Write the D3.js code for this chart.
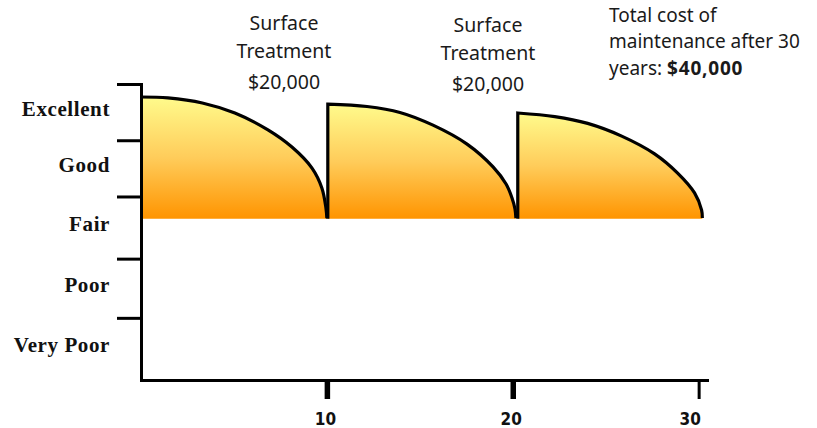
<!DOCTYPE html>
<html lang="en">
  <head>
    <meta charset="utf-8" />
    <title>Pavement condition with surface treatments</title>
    <style>
      body { margin: 0; background: #fff; }
      #chart svg { display: block; }
    </style>
  </head>
  <body>
    <div id="chart"></div>

    <script src="https://d3js.org/d3.v7.min.js"></script>
    <script>
      // condition ratings, top to bottom, and the tick boundaries between them
      const ratings = ["Excellent", "Good", "Fair", "Poor", "Very Poor"];
      const ratingTicks = [100, 81, 62, 41, 21, 0];
      const yearTicks = [10, 20, 30];

      // condition index (0-100) over years
      const seg1Years = [0, 1.45, 3.3, 5.05, 6.83, 8.12, 9.2, 9.73, 9.95, 10];
      const seg1Cond = [95.6, 95.3, 93.6, 90.2, 84.5, 78.7, 71.6, 64.9, 58.1, 54.7];
      const seg2Years = [10.05, 12.16, 13.93, 15.71, 17.54, 18.94, 19.64, 19.96, 20.12, 20.17];
      const seg2Cond = [93.2, 92.4, 90.4, 86.1, 79.7, 72.0, 66.2, 61.5, 57.8, 54.7];
      const seg3Years = [20.27, 22.26, 24.03, 25.86, 27.63, 28.87, 29.78, 30.16, 30.2];
      const seg3Cond = [90.2, 89.0, 86.7, 82.4, 76.4, 69.9, 63.2, 57.4, 54.7];
      const fairLine = 54.5;

      const treatmentLabel = ["Surface", "Treatment"];
      const treatmentCost = 20000;
      const totalText = ["Total cost of", "maintenance after 30", "years: "];
      const totalCost = 40000;

      const width = 817, height = 428;

      const x = d3.scaleLinear().domain([0, 30.45]).range([141, 707]);
      const y = d3.scaleLinear().domain([0, 100]).range([380, 84]);

      const svg = d3.select("#chart").append("svg")
        .attr("width", width)
        .attr("height", height);

      const grad = svg.append("defs").append("linearGradient")
        .attr("id", "fillGrad")
        .attr("x1", 0).attr("y1", 0).attr("x2", 0).attr("y2", 1);
      grad.append("stop").attr("offset", "0%").attr("stop-color", "#fffb8c");
      grad.append("stop").attr("offset", "50%").attr("stop-color", "#ffcc5a");
      grad.append("stop").attr("offset", "100%").attr("stop-color", "#ff9400");

      const segments = [
        seg1Years.map((yr, i) => [yr, seg1Cond[i]]),
        seg2Years.map((yr, i) => [yr, seg2Cond[i]]),
        seg3Years.map((yr, i) => [yr, seg3Cond[i]])
      ];

      // centripetal catmull-rom keeps the near-vertical ends smooth
      const smooth = d3.curveCatmullRom.alpha(0.5);

      const area = d3.area()
        .x(d => x(d[0]))
        .y0(y(fairLine))
        .y1(d => y(d[1]))
        .curve(smooth);

      const line = d3.line()
        .x(d => x(d[0]))
        .y(d => y(d[1]))
        .curve(smooth);

      svg.selectAll("path.cond-fill")
        .data(segments)
        .enter()
        .append("path")
        .attr("class", "cond-fill")
        .attr("d", area)
        .attr("fill", "url(#fillGrad)");

      // outline: rise from the fair line at each treatment, then decay
      svg.selectAll("path.cond-line")
        .data(segments)
        .enter()
        .append("path")
        .attr("class", "cond-line")
        .attr("d", (d, i) => {
          let p = line(d);
          if (i === 0) return p;
          return `M${x(d[0][0])},${y(fairLine)}L` + p.slice(1);
        })
        .attr("fill", "none")
        .attr("stroke", "#000")
        .attr("stroke-width", 3.2)
        .attr("stroke-linejoin", "miter");

      // y axis
      const yAxis = svg.append("g")
        .attr("transform", `translate(${x(0)},0)`)
        .call(d3.axisLeft(y).tickValues(ratingTicks.slice(0, 5)).tickSize(24).tickSizeOuter(0).tickFormat(""));

      // x axis
      const xAxis = svg.append("g")
        .attr("transform", `translate(0,${y(0)})`)
        .call(d3.axisBottom(x).tickValues(yearTicks).tickSize(19).tickSizeOuter(0).tickFormat(d3.format("d")));

      [yAxis, xAxis].forEach(g => {
        g.select(".domain").attr("stroke", "#000").attr("stroke-width", 3).attr("stroke-linecap", "square");
        g.selectAll(".tick line").attr("stroke", "#000").attr("stroke-width", 3);
      });
      xAxis.selectAll(".tick line").attr("stroke-width", d => d === 30 ? 3 : 5.5);
      xAxis.selectAll(".tick text")
        .attr("y", 45)
        .attr("dy", 0)
        .attr("dx", d => d === 30 ? -9 : -2)
        .attr("fill", "#111")
        .style("font-family", "'Liberation Sans Narrow', 'DejaVu Sans Condensed', 'DejaVu Sans', sans-serif")
        .style("font-weight", "bold")
        .style("font-size", "17px");

      // rating labels between ticks
      svg.append("g")
        .selectAll("text")
        .data(ratings)
        .enter()
        .append("text")
        .attr("x", 110)
        .attr("y", (d, i) => (y(ratingTicks[i]) + y(ratingTicks[i + 1])) / 2 + 3.5)
        .attr("text-anchor", "end")
        .attr("fill", "#111")
        .style("font-family", "'Liberation Serif', 'Times New Roman', serif")
        .style("font-weight", "bold")
        .style("font-size", "21px")
        .style("letter-spacing", "0.6px")
        .text(d => d);

      // treatment annotations
      const money = d3.format("$,");
      const notes = [{ cx: 284, top: 30 }, { cx: 488, top: 32 }];
      notes.forEach(n => {
        const t = svg.append("text")
          .attr("text-anchor", "middle")
          .attr("fill", "#1a1a1a")
          .style("font-family", "'Noto Sans', sans-serif")
          .style("font-size", "19.5px");
        t.append("tspan").attr("x", n.cx).attr("y", n.top).text(treatmentLabel[0]);
        t.append("tspan").attr("x", n.cx).attr("y", n.top + 28).text(treatmentLabel[1]);
        t.append("tspan").attr("x", n.cx).attr("y", n.top + 59).text(money(treatmentCost));
      });

      const total = svg.append("text")
        .attr("fill", "#1a1a1a")
        .style("font-family", "'Noto Sans', sans-serif")
        .style("font-size", "19px");
      total.append("tspan").attr("x", 609).attr("y", 22).text(totalText[0]);
      total.append("tspan").attr("x", 609).attr("y", 48).text(totalText[1]);
      total.append("tspan").attr("x", 609).attr("y", 75).text(totalText[2]);
      total.append("tspan")
        .style("font-weight", "bold")
        .style("letter-spacing", "0.8px")
        .text(money(totalCost));
    </script>
  </body>
</html>
